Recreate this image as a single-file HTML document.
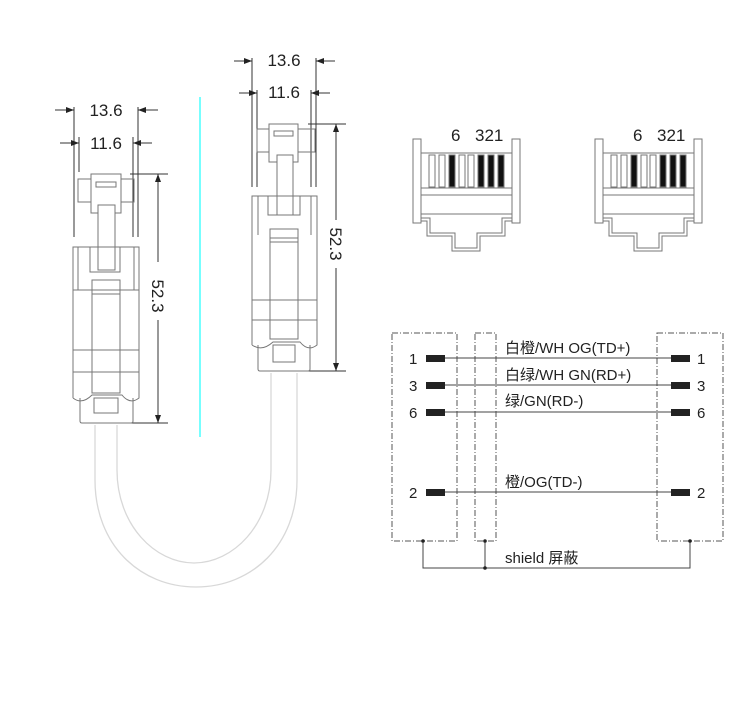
<!DOCTYPE html>
<html><head><meta charset="utf-8"><style>
html,body{margin:0;padding:0;background:#fff;width:754px;height:719px;overflow:hidden}
svg text{font-family:"Liberation Sans","Noto Sans CJK SC",sans-serif;fill:#222}
</style></head><body>
<svg width="754" height="719" viewBox="0 0 754 719" xmlns="http://www.w3.org/2000/svg">
<defs>
<marker id="ar" markerWidth="8" markerHeight="6" refX="8" refY="3" orient="auto" markerUnits="userSpaceOnUse"><path d="M0,0 L8,3 L0,6 z" fill="#222"/></marker>
</defs>
<!-- cable -->
<g fill="none" stroke="#d8d8d8" stroke-width="1.3">
<path d="M95,425 L95,480 C95,545 140,587 196,587 C252,587 297,545 297,480 L297,373"/>
<path d="M117,425 L117,470 C117,525 155,563 194,563 C233,563 271,525 271,470 L271,373"/>
</g>
<!-- cyan line -->
<line x1="200" y1="97" x2="200" y2="437" stroke="#7ff" stroke-width="2"/>
<!-- left connector dims -->
<g stroke="#333" stroke-width="1" fill="none">
<line x1="74" y1="107" x2="74" y2="237"/><line x1="138" y1="107" x2="138" y2="237"/>
<line x1="79" y1="137" x2="79" y2="172"/><line x1="133" y1="137" x2="133" y2="237"/>
<line x1="55" y1="110" x2="74" y2="110" marker-end="url(#ar)"/><line x1="158" y1="110" x2="138" y2="110" marker-end="url(#ar)"/>
<line x1="60" y1="143" x2="79" y2="143" marker-end="url(#ar)"/><line x1="152" y1="143" x2="133" y2="143" marker-end="url(#ar)"/>
<line x1="130" y1="174" x2="168" y2="174"/><line x1="120" y1="423" x2="168" y2="423"/>
<line x1="158" y1="262" x2="158" y2="174" marker-end="url(#ar)"/><line x1="158" y1="320" x2="158" y2="423" marker-end="url(#ar)"/>
<!-- right connector dims -->
<line x1="252" y1="58" x2="252" y2="187"/><line x1="316" y1="58" x2="316" y2="187"/>
<line x1="257" y1="90" x2="257" y2="187"/><line x1="311" y1="90" x2="311" y2="187"/>
<line x1="234" y1="61" x2="252" y2="61" marker-end="url(#ar)"/><line x1="335" y1="61" x2="316" y2="61" marker-end="url(#ar)"/>
<line x1="239" y1="93" x2="257" y2="93" marker-end="url(#ar)"/><line x1="330" y1="93" x2="311" y2="93" marker-end="url(#ar)"/>
<line x1="308" y1="124" x2="346" y2="124"/><line x1="300" y1="371" x2="346" y2="371"/>
<line x1="336" y1="220" x2="336" y2="124" marker-end="url(#ar)"/><line x1="336" y1="268" x2="336" y2="371" marker-end="url(#ar)"/>
</g>
<text x="106" y="116" font-size="17" text-anchor="middle">13.6</text>
<text x="106" y="149" font-size="17" text-anchor="middle">11.6</text>
<text x="284" y="66" font-size="17" text-anchor="middle">13.6</text>
<text x="284" y="98" font-size="17" text-anchor="middle">11.6</text>
<text transform="translate(152,296) rotate(90)" font-size="17" text-anchor="middle">52.3</text>
<text transform="translate(330,244) rotate(90)" font-size="17" text-anchor="middle">52.3</text>
<!-- left connector body -->
<g stroke="#777" stroke-width="1" fill="none">
<rect x="78" y="179" width="56" height="23"/>
<rect x="91" y="174" width="30" height="39" fill="#fff"/>
<rect x="96" y="182" width="20" height="5"/>
<rect x="98" y="205" width="17" height="65" fill="#fff"/>
<path d="M73,398 L73,247 L139,247 L139,398 Q130,405 122,395 L92,395 Q82,405 73,398"/>
<path d="M80,398 L80,421 Q80,423 82,423 L131,423 Q133,423 133,421 L133,398"/>
<path d="M90,247 L90,272 L120,272 L120,247"/>
<path d="M78,247 L78,290 M134,247 L134,290 M73,290 L139,290 M73,350 L139,350 M73,372 L139,372"/>
<rect x="92" y="280" width="28" height="113"/>
<line x1="92" y1="290" x2="120" y2="290"/><line x1="92" y1="294" x2="120" y2="294"/>
<rect x="94" y="398" width="24" height="15"/>
</g>
<!-- right connector body -->
<g stroke="#777" stroke-width="1" fill="none">
<rect x="257" y="129" width="58" height="23"/>
<rect x="269" y="124" width="29" height="38" fill="#fff"/>
<rect x="274" y="131" width="19" height="5"/>
<rect x="277" y="155" width="16" height="60" fill="#fff"/>
<path d="M252,345 L252,196 L317,196 L317,345 Q308,352 300,342 L273,342 Q262,352 252,345"/>
<path d="M258,345 L258,369 Q258,371 260,371 L308,371 Q310,371 310,369 L310,345"/>
<path d="M268,196 L268,215 L300,215 L300,196"/>
<path d="M258,196 L258,235 M311,196 L311,235 M252,300 L317,300 M252,320 L317,320"/>
<rect x="270" y="229" width="28" height="110"/>
<line x1="270" y1="238" x2="298" y2="238"/><line x1="270" y1="242" x2="298" y2="242"/>
<rect x="273" y="345" width="22" height="17"/>
</g>
<!-- plug faces -->
<g id="face" stroke="#777" stroke-width="1" fill="none">
<rect x="413" y="139" width="8" height="84"/>
<rect x="512" y="139" width="8" height="84"/>
<line x1="421" y1="153" x2="512" y2="153"/>
<line x1="421" y1="188" x2="512" y2="188"/>
<line x1="421" y1="195" x2="512" y2="195"/>
<line x1="421" y1="214" x2="512" y2="214"/>
<path d="M421,218 L430,218 L430,233 L455,233 L455,248 L477,248 L477,233 L502,233 L502,218 L512,218"/>
<path d="M421,221 L427,221 L427,236 L452,236 L452,251 L480,251 L480,236 L505,236 L505,221 L512,221"/>
<rect x="429" y="155" width="6" height="32"/>
<rect x="439" y="155" width="6" height="32"/>
<rect x="449" y="155" width="6" height="32" fill="#111"/>
<rect x="459" y="155" width="6" height="32"/>
<rect x="468" y="155" width="6" height="32"/>
<rect x="478" y="155" width="6" height="32" fill="#111"/>
<rect x="488" y="155" width="6" height="32" fill="#111"/>
<rect x="498" y="155" width="6" height="32" fill="#111"/>
</g>
<use href="#face" x="182" y="0"/>
<text x="451" y="141" font-size="17">6</text><text x="475" y="141" font-size="17">321</text>
<text x="633" y="141" font-size="17">6</text><text x="657" y="141" font-size="17">321</text>
<!-- wiring -->
<g stroke="#555" stroke-width="1" fill="none" stroke-dasharray="6,2,1,2">
<rect x="392" y="333" width="65" height="208"/>
<rect x="475" y="333" width="21" height="208"/>
<rect x="657" y="333" width="66" height="208"/>
</g>
<g stroke="#444" stroke-width="1">
<line x1="445" y1="358" x2="671" y2="358"/>
<line x1="445" y1="385" x2="671" y2="385"/>
<line x1="445" y1="412" x2="671" y2="412"/>
<line x1="445" y1="492" x2="671" y2="492"/>
<path d="M423,541 L423,568 L690,568 L690,541 M485,541 L485,568" fill="none"/>
</g>
<g fill="#222">
<rect x="426" y="355" width="19" height="7"/><rect x="671" y="355" width="19" height="7"/>
<rect x="426" y="382" width="19" height="7"/><rect x="671" y="382" width="19" height="7"/>
<rect x="426" y="409" width="19" height="7"/><rect x="671" y="409" width="19" height="7"/>
<rect x="426" y="489" width="19" height="7"/><rect x="671" y="489" width="19" height="7"/>
<circle cx="423" cy="541" r="1.8"/><circle cx="485" cy="541" r="1.8"/><circle cx="690" cy="541" r="1.8"/><circle cx="485" cy="568" r="1.8"/>
</g>
<g font-size="15">
<text x="409" y="364">1</text><text x="409" y="391">3</text><text x="409" y="418">6</text><text x="409" y="498">2</text>
<text x="697" y="364">1</text><text x="697" y="391">3</text><text x="697" y="418">6</text><text x="697" y="498">2</text>
<text x="505" y="353">白橙/WH OG(TD+)</text>
<text x="505" y="380">白绿/WH GN(RD+)</text>
<text x="505" y="406">绿/GN(RD-)</text>
<text x="505" y="487">橙/OG(TD-)</text>
<text x="505" y="563">shield 屏蔽</text>
</g>
</svg>
</body></html>
